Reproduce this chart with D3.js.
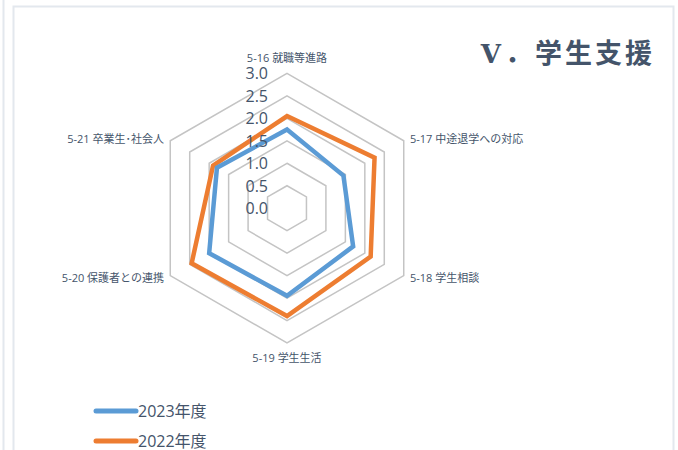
<!DOCTYPE html>
<html>
<head>
  <meta charset="UTF-8">
  <script src="https://d3js.org/d3.v7.min.js"></script>
  <style>
    body { margin: 0; background: #fff; }
    text { font-family: "Open Sans", "Noto Sans CJK JP", sans-serif; }
  </style>
</head>
<body>
  <svg width="678" height="450"></svg>

  <script>
    // Data
    const categories = ["5-16 就職等進路", "5-17 中途退学への対応", "5-18 学生相談",
                        "5-19 学生生活", "5-20 保護者との連携", "5-21 卒業生･社会人"];
    const values2023 = [1.75, 1.45, 1.7, 1.95, 2.0, 1.8];
    const values2022 = [2.05, 2.25, 2.15, 2.4, 2.45, 1.9];
    const seriesNames = ["2023年度", "2022年度"];
    const ticks = [0, 0.5, 1.0, 1.5, 2.0, 2.5, 3.0];

    const svg = d3.select("svg");
    const cx = 287, cy = 208.2;
    const rScale = d3.scaleLinear().domain([0, 3]).range([0, 134.8]);
    const n = categories.length;
    const angle = i => i * 2 * Math.PI / n;  // 0 at top, clockwise
    const pt = (i, v) => [cx + rScale(v) * Math.sin(angle(i)), cy - rScale(v) * Math.cos(angle(i))];

    // Frame lines
    const frame = "#e3e8ee";
    svg.append("line").attr("x1", 3.5).attr("x2", 3.5).attr("y1", 0).attr("y2", 450)
      .attr("stroke", frame).attr("stroke-width", 2);
    svg.append("path").attr("d", "M13.5,450 V6.5 H673.5 V450")
      .attr("fill", "none").attr("stroke", frame).attr("stroke-width", 2);

    // Title
    const title = svg.append("text")
      .attr("x", 655).attr("y", 63)
      .attr("text-anchor", "end")
      .attr("fill", "#44546a")
      .style("font-size", "27px")
      .style("font-weight", "bold")
      .style("font-family", "'Noto Sans CJK JP', sans-serif");
    title.append("tspan").style("font-family", "'DejaVu Serif', serif").style("font-size", "26px").text("V");
    title.append("tspan").attr("dx", 4).style("letter-spacing", "3px").text("．学生支援");

    // Grid hexagons (skip center)
    const ring = d3.line().curve(d3.curveLinearClosed);
    svg.append("g").selectAll("path")
      .data(ticks.filter(t => t > 0))
      .join("path")
      .attr("d", t => ring(categories.map((c, i) => pt(i, t))))
      .attr("fill", "none")
      .attr("stroke", "#c4c4c4")
      .attr("stroke-width", 1.5);

    // Series
    const series = [
      { name: seriesNames[0], values: values2023, color: "#5b9bd5" },
      { name: seriesNames[1], values: values2022, color: "#ed7d31" }
    ];
    svg.append("g").selectAll("path")
      .data(series.slice().reverse())
      .join("path")
      .attr("d", s => ring(s.values.map((v, i) => pt(i, v))))
      .attr("fill", "none")
      .attr("stroke", d => d.color)
      .attr("stroke-width", 4.5)
      .attr("stroke-linejoin", "miter");

    // Tick labels
    svg.append("g").selectAll("text")
      .data(ticks)
      .join("text")
      .attr("x", 268)
      .attr("y", t => cy - rScale(t) + 6)
      .attr("text-anchor", "end")
      .attr("fill", "#44546a")
      .style("font-size", "16px")
      .text(t => t.toFixed(1));

    // Category labels
    const labelPos = [
      { x: cx, y: 62, anchor: "middle" },
      { x: 410, y: 143, anchor: "start" },
      { x: 410, y: 282, anchor: "start" },
      { x: cx, y: 362, anchor: "middle" },
      { x: 164, y: 282, anchor: "end" },
      { x: 164, y: 143, anchor: "end" }
    ];
    svg.append("g").selectAll("text")
      .data(categories)
      .join("text")
      .attr("x", (d, i) => labelPos[i].x)
      .attr("y", (d, i) => labelPos[i].y)
      .attr("text-anchor", (d, i) => labelPos[i].anchor)
      .attr("fill", "#44546a")
      .style("font-size", "11px")
      .text(d => d);

    // Legend
    const legend = svg.append("g").selectAll("g")
      .data(series)
      .join("g")
      .attr("transform", (d, i) => `translate(96, ${411 + i * 30})`);
    legend.append("line")
      .attr("x1", 0).attr("x2", 40)
      .attr("stroke", d => d.color)
      .attr("stroke-width", 5)
      .attr("stroke-linecap", "round");
    legend.append("text")
      .attr("x", 42).attr("y", 6)
      .attr("fill", "#44546a")
      .style("font-size", "16px")
      .text(d => d.name);
  </script>
</body>
</html>
